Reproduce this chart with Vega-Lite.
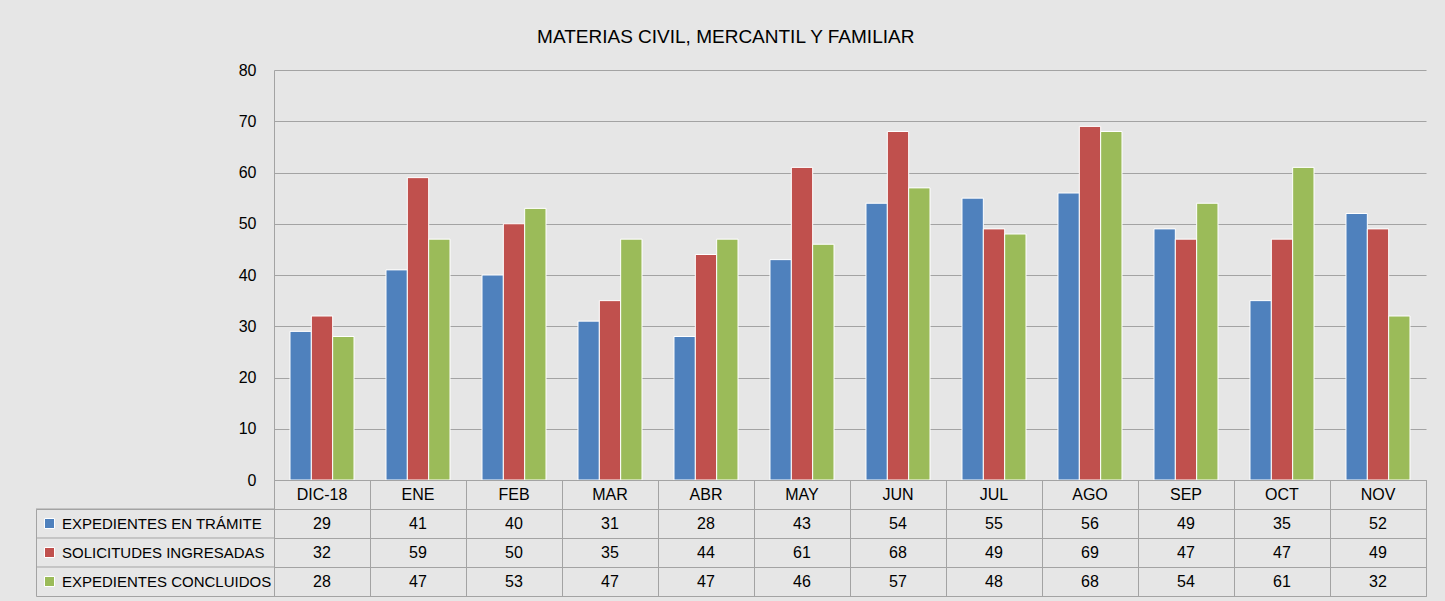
{
  "$schema": "https://vega.github.io/schema/vega-lite/v6.json",
  "background": "#e6e6e6",
  "padding": {"left": 35, "top": 28, "right": 20, "bottom": 4},
  "title": {"text": "MATERIAS CIVIL, MERCANTIL Y FAMILIAR", "fontSize": 19, "font": "Liberation Sans", "fontWeight": "normal", "color": "#000000", "anchor": "middle", "dx": -5, "offset": 15},
  "config": {
    "view": {"stroke": null},
    "font": "Liberation Sans",
    "text": {"font": "Liberation Sans"}
  },
  "datasets": {
    "vals": [
      {"mes": "DIC-18", "serie": "EXPEDIENTES EN TRÁMITE", "valor": 29},
      {"mes": "DIC-18", "serie": "SOLICITUDES INGRESADAS", "valor": 32},
      {"mes": "DIC-18", "serie": "EXPEDIENTES CONCLUIDOS", "valor": 28},
      {"mes": "ENE", "serie": "EXPEDIENTES EN TRÁMITE", "valor": 41},
      {"mes": "ENE", "serie": "SOLICITUDES INGRESADAS", "valor": 59},
      {"mes": "ENE", "serie": "EXPEDIENTES CONCLUIDOS", "valor": 47},
      {"mes": "FEB", "serie": "EXPEDIENTES EN TRÁMITE", "valor": 40},
      {"mes": "FEB", "serie": "SOLICITUDES INGRESADAS", "valor": 50},
      {"mes": "FEB", "serie": "EXPEDIENTES CONCLUIDOS", "valor": 53},
      {"mes": "MAR", "serie": "EXPEDIENTES EN TRÁMITE", "valor": 31},
      {"mes": "MAR", "serie": "SOLICITUDES INGRESADAS", "valor": 35},
      {"mes": "MAR", "serie": "EXPEDIENTES CONCLUIDOS", "valor": 47},
      {"mes": "ABR", "serie": "EXPEDIENTES EN TRÁMITE", "valor": 28},
      {"mes": "ABR", "serie": "SOLICITUDES INGRESADAS", "valor": 44},
      {"mes": "ABR", "serie": "EXPEDIENTES CONCLUIDOS", "valor": 47},
      {"mes": "MAY", "serie": "EXPEDIENTES EN TRÁMITE", "valor": 43},
      {"mes": "MAY", "serie": "SOLICITUDES INGRESADAS", "valor": 61},
      {"mes": "MAY", "serie": "EXPEDIENTES CONCLUIDOS", "valor": 46},
      {"mes": "JUN", "serie": "EXPEDIENTES EN TRÁMITE", "valor": 54},
      {"mes": "JUN", "serie": "SOLICITUDES INGRESADAS", "valor": 68},
      {"mes": "JUN", "serie": "EXPEDIENTES CONCLUIDOS", "valor": 57},
      {"mes": "JUL", "serie": "EXPEDIENTES EN TRÁMITE", "valor": 55},
      {"mes": "JUL", "serie": "SOLICITUDES INGRESADAS", "valor": 49},
      {"mes": "JUL", "serie": "EXPEDIENTES CONCLUIDOS", "valor": 48},
      {"mes": "AGO", "serie": "EXPEDIENTES EN TRÁMITE", "valor": 56},
      {"mes": "AGO", "serie": "SOLICITUDES INGRESADAS", "valor": 69},
      {"mes": "AGO", "serie": "EXPEDIENTES CONCLUIDOS", "valor": 68},
      {"mes": "SEP", "serie": "EXPEDIENTES EN TRÁMITE", "valor": 49},
      {"mes": "SEP", "serie": "SOLICITUDES INGRESADAS", "valor": 47},
      {"mes": "SEP", "serie": "EXPEDIENTES CONCLUIDOS", "valor": 54},
      {"mes": "OCT", "serie": "EXPEDIENTES EN TRÁMITE", "valor": 35},
      {"mes": "OCT", "serie": "SOLICITUDES INGRESADAS", "valor": 47},
      {"mes": "OCT", "serie": "EXPEDIENTES CONCLUIDOS", "valor": 61},
      {"mes": "NOV", "serie": "EXPEDIENTES EN TRÁMITE", "valor": 52},
      {"mes": "NOV", "serie": "SOLICITUDES INGRESADAS", "valor": 49},
      {"mes": "NOV", "serie": "EXPEDIENTES CONCLUIDOS", "valor": 32}
    ]
  },
  "columns": 2,
  "spacing": 0,
  "bounds": "flush",
  "concat": [
    {
      "width": 238, "height": 410,
      "data": {"values": []},
      "mark": "point",
      "encoding": {}
    },
    {
      "width": 1152, "height": 410,
      "data": {"name": "vals"},
      "mark": {"type": "bar", "stroke": "#ffffff", "strokeWidth": 1},
      "encoding": {
        "x": {"field": "mes", "type": "nominal", "sort": ["DIC-18","ENE","FEB","MAR","ABR","MAY","JUN","JUL","AGO","SEP","OCT","NOV"], "scale": {"paddingInner": 0.3333, "paddingOuter": 0.1667}, "axis": null},
        "xOffset": {"field": "serie", "type": "nominal", "sort": ["EXPEDIENTES EN TRÁMITE","SOLICITUDES INGRESADAS","EXPEDIENTES CONCLUIDOS"], "scale": {"paddingInner": 0}},
        "y": {"field": "valor", "type": "quantitative", "scale": {"domain": [0, 80], "nice": false},
              "axis": {"title": null, "values": [0,10,20,30,40,50,60,70,80], "grid": true, "gridColor": "#a3a3a3", "gridWidth": 1, "ticks": false, "domain": true, "domainColor": "#a3a3a3", "labelPadding": 18, "labelFontSize": 16, "labelColor": "#000000", "labelFont": "Liberation Sans"}},
        "color": {"field": "serie", "type": "nominal",
                  "scale": {"domain": ["EXPEDIENTES EN TRÁMITE","SOLICITUDES INGRESADAS","EXPEDIENTES CONCLUIDOS"], "range": ["#4f81bd","#c0504d","#9bbb59"]},
                  "legend": {"orient": "none", "legendX": 6, "legendY": 446, "title": null, "padding": 0, "symbolType": "square", "symbolSize": 100, "symbolStrokeColor": "#ffffff", "symbolStrokeWidth": 1, "symbolOpacity": 1, "labelFontSize": 15, "labelFont": "Liberation Sans", "labelColor": "#000000", "labelLimit": 300, "labelOffset": 5, "rowPadding": 13}}
      }
    },
    {
      "width": 238, "height": 29,
      "data": {"values": []},
      "mark": "point",
      "encoding": {}
    },
    {
      "width": 1152, "height": 29,
      "view": {"stroke": "#a3a3a3"},
      "data": {"name": "vals"},
      "transform": [{"filter": "datum.serie === 'EXPEDIENTES EN TRÁMITE'"}],
      "mark": {"type": "text", "fontSize": 16, "color": "#000000", "baseline": "middle"},
      "encoding": {
        "x": {"field": "mes", "type": "nominal", "sort": ["DIC-18","ENE","FEB","MAR","ABR","MAY","JUN","JUL","AGO","SEP","OCT","NOV"], "scale": {"paddingInner": 0, "paddingOuter": 0},
              "axis": {"title": null, "labels": false, "ticks": false, "domain": false, "grid": true, "tickBand": "extent", "gridColor": "#a3a3a3"}},
        "text": {"field": "mes"}
      }
    },
    {
      "width": 238, "height": 87,
      "view": {"stroke": "#a3a3a3"},
      "data": {"name": "vals"},
      "transform": [{"filter": "datum.mes === 'DIC-18'"}],
      "mark": {"type": "rule", "color": "#a3a3a3"},
      "encoding": {
        "y": {"field": "serie", "type": "nominal", "sort": ["EXPEDIENTES EN TRÁMITE","SOLICITUDES INGRESADAS","EXPEDIENTES CONCLUIDOS"], "bandPosition": 0, "scale": {"paddingInner": 0, "paddingOuter": 0}, "axis": null}
      }
    },
    {
      "width": 1152, "height": 87,
      "view": {"stroke": "#a3a3a3"},
      "data": {"name": "vals"},
      "mark": {"type": "text", "fontSize": 16, "color": "#000000", "baseline": "middle"},
      "encoding": {
        "x": {"field": "mes", "type": "nominal", "sort": ["DIC-18","ENE","FEB","MAR","ABR","MAY","JUN","JUL","AGO","SEP","OCT","NOV"], "scale": {"paddingInner": 0, "paddingOuter": 0},
              "axis": {"title": null, "labels": false, "ticks": false, "domain": false, "grid": true, "tickBand": "extent", "gridColor": "#a3a3a3"}},
        "y": {"field": "serie", "type": "nominal", "sort": ["EXPEDIENTES EN TRÁMITE","SOLICITUDES INGRESADAS","EXPEDIENTES CONCLUIDOS"], "scale": {"paddingInner": 0, "paddingOuter": 0},
              "axis": {"title": null, "labels": false, "ticks": false, "domain": false, "grid": true, "tickBand": "extent", "gridColor": "#a3a3a3"}},
        "text": {"field": "valor"}
      }
    }
  ]
}
